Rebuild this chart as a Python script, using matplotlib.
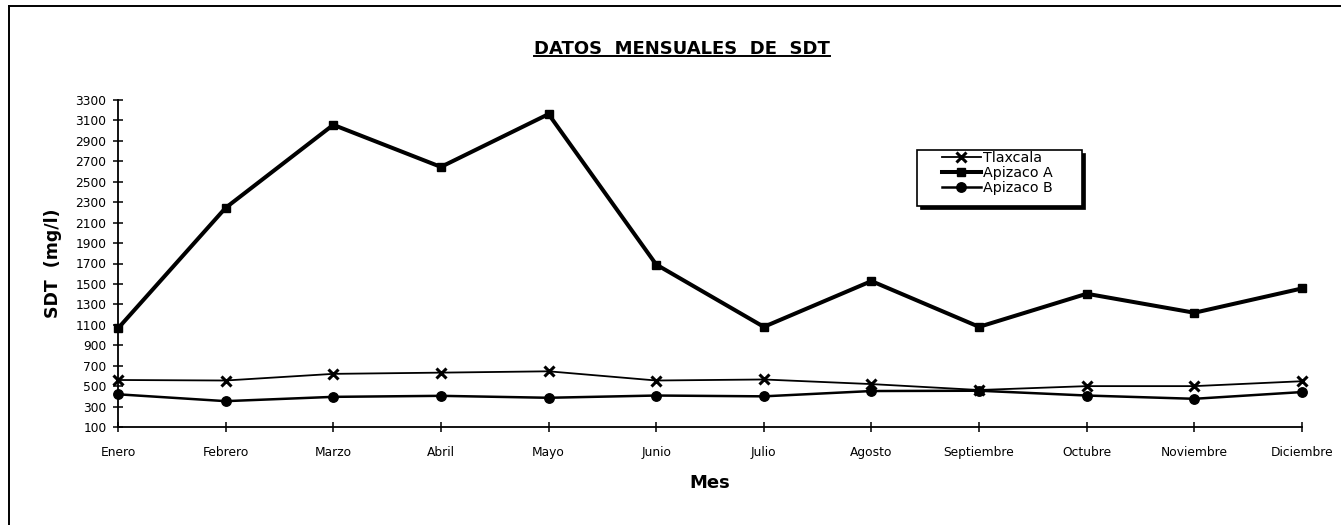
import matplotlib
matplotlib.use("Agg")
import matplotlib.pyplot as plt
from matplotlib.lines import Line2D
from matplotlib.patches import Rectangle

plt.rcParams['font.family'] = ['DejaVu Sans']

months = ["Enero", "Febrero", "Marzo", "Abril", "Mayo", "Junio", "Julio",
          "Agosto", "Septiembre", "Octubre", "Noviembre", "Diciembre"]
tlaxcala = [560, 555, 620, 632, 645, 555, 565, 520, 462, 500, 500, 548]
apizaco_a = [1065, 2245, 3057, 2645, 3162, 1690, 1080, 1528, 1080, 1404, 1218, 1456]
apizaco_b = [420, 353, 395, 405, 386, 408, 400, 452, 455, 408, 376, 442]
yticks = list(range(100, 3301, 200))

W, H = 1341, 525
fig = plt.figure(figsize=(W / 100, H / 100), dpi=100)


def fx(px):
    return px / W


def fy(py):
    return 1 - py / H


ax = fig.add_axes([fx(118), fy(427), fx(1302) - fx(118), fy(100) - fy(427)])
x = list(range(len(months)))
ax.plot(x, tlaxcala, color='black', lw=1.3, marker='x', ms=6.5, mew=2.2,
        label='Tlaxcala', clip_on=False, zorder=3)
ax.plot(x, apizaco_a, color='black', lw=2.9, marker='s', ms=6.2,
        label='Apizaco A', clip_on=False, zorder=3)
ax.plot(x, apizaco_b, color='black', lw=1.8, marker='o', ms=6.8,
        label='Apizaco B', clip_on=False, zorder=3)

ax.set_xlim(0, len(months) - 1)
ax.set_ylim(100, 3300)
ax.set_xticks(x, months)
ax.set_yticks(yticks)
for s in ('top', 'right'):
    ax.spines[s].set_visible(False)
for s in ('left', 'bottom'):
    ax.spines[s].set_linewidth(1.3)
ax.tick_params(direction='inout', length=6.5, width=1.1, labelsize=8.8,
               colors='black')
ax.tick_params(axis='x', pad=10.5)
ax.tick_params(axis='y', pad=5.0)

ax.set_ylabel('SDT  (mg/l)', fontsize=12.5, fontweight='bold')
ax.yaxis.label.set_verticalalignment('center')
ax.yaxis.set_label_coords((53 - 118) / 1184, 0.5)
ax.set_xlabel('Mes', fontsize=13, fontweight='bold')
ax.xaxis.label.set_verticalalignment('center')
ax.xaxis.set_label_coords(0.5, (427 - 483) / 327)

# legend box with shadow
ax.add_artist(Rectangle((fx(920), fy(209)), fx(1085) - fx(920), fy(153) - fy(209),
                        transform=fig.transFigure, facecolor='black',
                        edgecolor='black', lw=0.5, zorder=4, clip_on=False))
ax.add_artist(Rectangle((fx(917), fy(206)), fx(1082) - fx(917), fy(150) - fy(206),
                        transform=fig.transFigure, facecolor='white',
                        edgecolor='black', lw=1.2, zorder=4.1, clip_on=False))
leg = ax.legend(loc='upper left', bbox_to_anchor=(fx(942), fy(151)),
                bbox_transform=fig.transFigure, frameon=False, borderpad=0,
                borderaxespad=0, handlelength=2.7, handletextpad=0.15,
                labelspacing=0.08, fontsize=10.3)
leg.set_zorder(5)

# title with underline
title = fig.text(fx(682), fy(53.5), 'DATOS  MENSUALES  DE  SDT', ha='center',
                 va='baseline', fontsize=13, fontweight='bold')
fig.canvas.draw()
bb = title.get_window_extent()
fig.add_artist(Line2D([bb.x0 / W, bb.x1 / W], [fy(56), fy(56)], color='black',
                      lw=1.4, transform=fig.transFigure))

# outer frame (top and left edges visible)
fig.add_artist(Line2D([fx(9), 1], [fy(6), fy(6)], color='black', lw=1.4,
                      transform=fig.transFigure))
fig.add_artist(Line2D([fx(9), fx(9)], [fy(6), 0], color='black', lw=1.4,
                      transform=fig.transFigure))

fig.savefig('out.png', dpi=100)
